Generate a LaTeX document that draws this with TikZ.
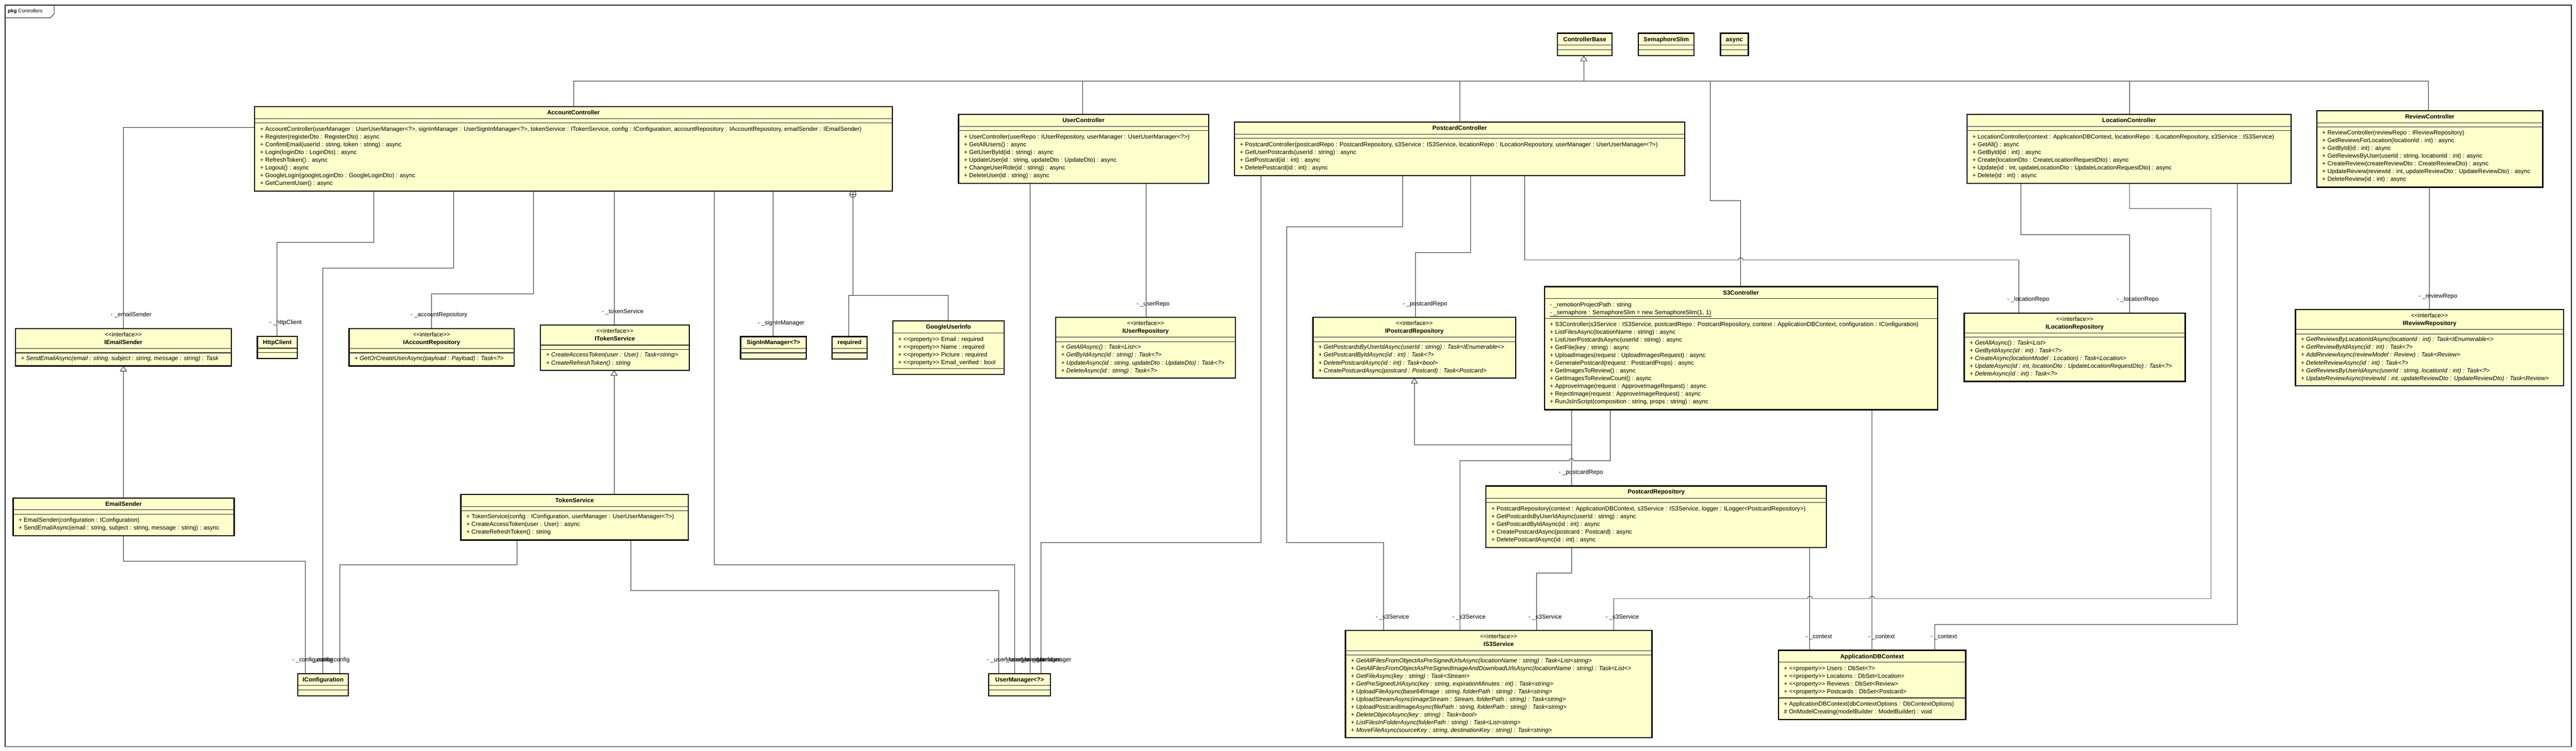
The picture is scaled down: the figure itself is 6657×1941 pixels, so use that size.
\documentclass[tikz,border=0pt]{standalone}
\usepackage{fontspec}
\setmainfont{Liberation Sans}
\usetikzlibrary{arrows.meta}
\definecolor{clsfill}{HTML}{FFFFCC}
\newcounter{tn}
\newcommand{\fs}{\fontsize{15.5}{18}\selectfont}
\newcommand{\ucls}[5]{\node[clsbox,minimum width={#4-#2},minimum height={#5-#3}] (#1) at (#2,#3) {};}
\newcommand{\usep}[2]{\draw[sepln] (#1.west |- 0,#2) -- (#1.east |- 0,#2);}
\newcommand{\uttl}[3]{\stepcounter{tn}\path (#1.north |- 0,#2) node[ttltxt] (t\number\value{tn}) {#3};}
\newcommand{\ustr}[2]{\stepcounter{tn}\path (#1.north |- 0,#2) node[strtxt] (t\number\value{tn}) {<{}<interface>{}>};}
\newcommand{\umem}[3]{\stepcounter{tn}\path (#1.west |- 0,#2) node[memtxt] (t\number\value{tn}) {#3};}
\newcommand{\uabs}[3]{\stepcounter{tn}\path (#1.west |- 0,#2) node[memtxt,font=\fs\itshape] (t\number\value{tn}) {#3};}
\newcommand{\ulbl}[3]{\stepcounter{tn}\node[lbltxt] (t\number\value{tn}) at (#1,#2) {#3};}
\begin{document}
\begin{tikzpicture}[x=1pt,y=-1pt,
  clsbox/.style={draw=black, line width=3pt, fill=clsfill, rectangle, anchor=north west, inner sep=0pt, outer sep=0pt},
  sepln/.style={draw=black!85, line width=1.4pt},
  ttltxt/.style={anchor=mid, inner sep=0pt, font=\fs\bfseries},
  strtxt/.style={anchor=mid, inner sep=0pt, font=\fs},
  memtxt/.style={anchor=mid west, inner sep=0pt, xshift=14pt, font=\fs},
  lbltxt/.style={anchor=mid west, inner sep=0pt, font=\fs},
  conn/.style={draw=black!85, line width=1.2pt},
  gen/.style={conn, -{Triangle[length=14pt, width=18pt, fill=white]}}]
\useasboundingbox (0,0) rectangle (6657,1941);
% package frame
\draw[line width=2pt, black!85] (13,13) rectangle (6645,1930);
\draw[line width=1.5pt, black!85] (13,46) -- (130,46) -- (140,36) -- (140,13);
\node[anchor=mid west, inner sep=0pt, font=\fontsize{13}{15}\selectfont] (pkg) at (20,30) {\textbf{pkg} Controllers};

% ---------- top small classes
\ucls{CB}{4025}{86}{4166}{144}\uttl{CB}{104}{ControllerBase}\usep{CB}{117}\usep{CB}{128}
\ucls{SS}{4234}{86}{4378}{144}\uttl{SS}{104}{SemaphoreSlim}\usep{SS}{117}\usep{SS}{128}
\ucls{AS}{4446}{86}{4518}{144}\uttl{AS}{104}{async}\usep{AS}{117}\usep{AS}{128}

% ---------- AccountController
\ucls{AC}{658}{276}{2306}{494}\uttl{AC}{294}{AccountController}\usep{AC}{307}\usep{AC}{318}
\umem{AC}{336}{+ AccountController(userManager : UserUserManager<?>, signInManager : UserSignInManager<?>, tokenService : ITokenService, config : IConfiguration, accountRepository : IAccountRepository, emailSender : IEmailSender)}
\umem{AC}{356}{+ Register(registerDto : RegisterDto) : async}
\umem{AC}{376}{+ ConfirmEmail(userId : string, token : string) : async}
\umem{AC}{396}{+ Login(loginDto : LoginDto) : async}
\umem{AC}{416}{+ RefreshToken() : async}
\umem{AC}{436}{+ Logout() : async}
\umem{AC}{456}{+ GoogleLogin(googleLoginDto : GoogleLoginDto) : async}
\umem{AC}{476}{+ GetCurrentUser() : async}

% ---------- UserController
\ucls{UC}{2477}{296}{3123}{474}\uttl{UC}{314}{UserController}\usep{UC}{327}\usep{UC}{338}
\umem{UC}{356}{+ UserController(userRepo : IUserRepository, userManager : UserUserManager<?>)}
\umem{UC}{376}{+ GetAllUsers() : async}
\umem{UC}{396}{+ GetUserById(id : string) : async}
\umem{UC}{416}{+ UpdateUser(id : string, updateDto : UpdateDto) : async}
\umem{UC}{436}{+ ChangeUserRole(id : string) : async}
\umem{UC}{456}{+ DeleteUser(id : string) : async}

% ---------- PostcardController
\ucls{PC}{3190}{316}{4354}{454}\uttl{PC}{334}{PostcardController}\usep{PC}{347}\usep{PC}{358}
\umem{PC}{376}{+ PostcardController(postcardRepo : PostcardRepository, s3Service : IS3Service, locationRepo : ILocationRepository, userManager : UserUserManager<?>)}
\umem{PC}{396}{+ GetUserPostcards(userId : string) : async}
\umem{PC}{416}{+ GetPostcard(id : int) : async}
\umem{PC}{436}{+ DeletePostcard(id : int) : async}

% ---------- LocationController
\ucls{LC}{5083}{296}{5921}{474}\uttl{LC}{314}{LocationController}\usep{LC}{327}\usep{LC}{338}
\umem{LC}{356}{+ LocationController(context : ApplicationDBContext, locationRepo : ILocationRepository, s3Service : IS3Service)}
\umem{LC}{376}{+ GetAll() : async}
\umem{LC}{396}{+ GetById(id : int) : async}
\umem{LC}{416}{+ Create(locationDto : CreateLocationRequestDto) : async}
\umem{LC}{436}{+ Update(id : int, updateLocationDto : UpdateLocationRequestDto) : async}
\umem{LC}{456}{+ Delete(id : int) : async}

% ---------- ReviewController
\ucls{RC}{5987}{286}{6571}{484}\uttl{RC}{304}{ReviewController}\usep{RC}{317}\usep{RC}{328}
\umem{RC}{346}{+ ReviewController(reviewRepo : IReviewRepository)}
\umem{RC}{366}{+ GetReviewsForLocation(locationId : int) : async}
\umem{RC}{386}{+ GetById(id : int) : async}
\umem{RC}{406}{+ GetReviewsByUser(userId : string, locationId : int) : async}
\umem{RC}{426}{+ CreateReview(createReviewDto : CreateReviewDto) : async}
\umem{RC}{446}{+ UpdateReview(reviewId : int, updateReviewDto : UpdateReviewDto) : async}
\umem{RC}{466}{+ DeleteReview(id : int) : async}

% ---------- S3Controller
\ucls{S3}{3991}{741}{5007}{1059}\uttl{S3}{759}{S3Controller}\usep{S3}{772}
\umem{S3}{790}{- \_remotionProjectPath : string}
\umem{S3}{810}{\underline{- \_semaphore : SemaphoreSlim = new SemaphoreSlim(1, 1)}}
\usep{S3}{823}
\umem{S3}{841}{+ S3Controller(s3Service : IS3Service, postcardRepo : PostcardRepository, context : ApplicationDBContext, configuration : IConfiguration)}
\umem{S3}{861}{+ ListFilesAsync(locationName : string) : async}
\umem{S3}{881}{+ ListUserPostcardsAsync(userId : string) : async}
\umem{S3}{901}{+ GetFile(key : string) : async}
\umem{S3}{921}{+ UploadImages(request : UploadImagesRequest) : async}
\umem{S3}{941}{+ GeneratePostcard(request : PostcardProps) : async}
\umem{S3}{961}{+ GetImagesToReview() : async}
\umem{S3}{981}{+ GetImagesToReviewCount() : async}
\umem{S3}{1001}{+ ApproveImage(request : ApproveImageRequest) : async}
\umem{S3}{1021}{+ RejectImage(request : ApproveImageRequest) : async}
\umem{S3}{1041}{+ RunJsInScript(composition : string, props : string) : async}

% ---------- left column
\ucls{IES}{40}{849}{598}{946}\ustr{IES}{867}\uttl{IES}{887}{IEmailSender}\usep{IES}{901}\usep{IES}{912}
\uabs{IES}{929}{+ SendEmailAsync(email : string, subject : string, message : string) : Task}
\ucls{ES}{34}{1287}{605}{1385}\uttl{ES}{1305}{EmailSender}\usep{ES}{1318}\usep{ES}{1329}
\umem{ES}{1347}{+ EmailSender(configuration : IConfiguration)}
\umem{ES}{1367}{+ SendEmailAsync(email : string, subject : string, message : string) : async}
\ucls{HC}{665}{869}{768}{927}\uttl{HC}{887}{HttpClient}\usep{HC}{900}\usep{HC}{911}
\ucls{IAR}{902}{849}{1329}{946}\ustr{IAR}{867}\uttl{IAR}{887}{IAccountRepository}\usep{IAR}{901}\usep{IAR}{912}
\uabs{IAR}{929}{+ GetOrCreateUserAsync(payload : Payload) : Task<?>}
\ucls{ITS}{1397}{840}{1781}{957}\ustr{ITS}{858}\uttl{ITS}{878}{ITokenService}\usep{ITS}{892}\usep{ITS}{903}
\uabs{ITS}{920}{+ CreateAccessToken(user : User) : Task<string>}
\uabs{ITS}{940}{+ CreateRefreshToken() : string}
\ucls{TS}{1191}{1278}{1779}{1396}\uttl{TS}{1296}{TokenService}\usep{TS}{1309}\usep{TS}{1320}
\umem{TS}{1338}{+ TokenService(config : IConfiguration, userManager : UserUserManager<?>)}
\umem{TS}{1358}{+ CreateAccessToken(user : User) : async}
\umem{TS}{1378}{+ CreateRefreshToken() : string}
\ucls{SIM}{1914}{870}{2084}{928}\uttl{SIM}{888}{SignInManager<?>}\usep{SIM}{901}\usep{SIM}{912}
\ucls{REQ}{2150}{870}{2241}{928}\uttl{REQ}{888}{required}\usep{REQ}{901}\usep{REQ}{912}
\ucls{GUI}{2307}{829}{2595}{968}\uttl{GUI}{847}{GoogleUserInfo}\usep{GUI}{861}
\umem{GUI}{879}{+ <{}<property>{}> Email : required}
\umem{GUI}{899}{+ <{}<property>{}> Name : required}
\umem{GUI}{919}{+ <{}<property>{}> Picture : required}
\umem{GUI}{939}{+ <{}<property>{}> Email\_verified : bool}
\usep{GUI}{953}
\ucls{ICF}{770}{1741}{900}{1799}\uttl{ICF}{1759}{IConfiguration}\usep{ICF}{1772}\usep{ICF}{1783}
\ucls{UM}{2555}{1741}{2715}{1799}\uttl{UM}{1759}{UserManager<?>}\usep{UM}{1772}\usep{UM}{1783}

% ---------- repositories
\ucls{IUR}{2728}{820}{3193}{977}\ustr{IUR}{838}\uttl{IUR}{858}{IUserRepository}\usep{IUR}{872}\usep{IUR}{883}
\uabs{IUR}{900}{+ GetAllAsync() : Task<List<>}
\uabs{IUR}{920}{+ GetByIdAsync(id : string) : Task<?>}
\uabs{IUR}{940}{+ UpdateAsync(id : string, updateDto : UpdateDto) : Task<?>}
\uabs{IUR}{960}{+ DeleteAsync(id : string) : Task<?>}
\ucls{IPR}{3393}{820}{3917}{977}\ustr{IPR}{838}\uttl{IPR}{858}{IPostcardRepository}\usep{IPR}{872}\usep{IPR}{883}
\uabs{IPR}{900}{+ GetPostcardsByUserIdAsync(userId : string) : Task<IEnumerable<>}
\uabs{IPR}{920}{+ GetPostcardByIdAsync(id : int) : Task<?>}
\uabs{IPR}{940}{+ DeletePostcardAsync(id : int) : Task<bool>}
\uabs{IPR}{960}{+ CreatePostcardAsync(postcard : Postcard) : Task<Postcard>}
\ucls{ILR}{5076}{809}{5647}{986}\ustr{ILR}{827}\uttl{ILR}{847}{ILocationRepository}\usep{ILR}{861}\usep{ILR}{872}
\uabs{ILR}{889}{+ GetAllAsync() : Task<List>}
\uabs{ILR}{909}{+ GetByIdAsync(id : int) : Task<?>}
\uabs{ILR}{929}{+ CreateAsync(locationModel : Location) : Task<Location>}
\uabs{ILR}{949}{+ UpdateAsync(id : int, locationDto : UpdateLocationRequestDto) : Task<?>}
\uabs{ILR}{969}{+ DeleteAsync(id : int) : Task<?>}
\ucls{IRR}{5932}{800}{6625}{997}\ustr{IRR}{818}\uttl{IRR}{838}{IReviewRepository}\usep{IRR}{852}\usep{IRR}{863}
\uabs{IRR}{880}{+ GetReviewsByLocationIdAsync(locationId : int) : Task<IEnumerable<>}
\uabs{IRR}{900}{+ GetReviewByIdAsync(id : int) : Task<?>}
\uabs{IRR}{920}{+ AddReviewAsync(reviewModel : Review) : Task<Review>}
\uabs{IRR}{940}{+ DeleteReviewAsync(id : int) : Task<?>}
\uabs{IRR}{960}{+ GetReviewsByUserIdAsync(userId : string, locationId : int) : Task<?>}
\uabs{IRR}{980}{+ UpdateReviewAsync(reviewId : int, updateReviewDto : UpdateReviewDto) : Task<Review>}
\ucls{PR}{3840}{1256}{4720}{1415}\uttl{PR}{1274}{PostcardRepository}\usep{PR}{1288}\usep{PR}{1299}
\umem{PR}{1317}{+ PostcardRepository(context : ApplicationDBContext, s3Service : IS3Service, logger : ILogger<PostcardRepository>)}
\umem{PR}{1337}{+ GetPostcardsByUserIdAsync(userId : string) : async}
\umem{PR}{1357}{+ GetPostcardByIdAsync(id : int) : async}
\umem{PR}{1377}{+ CreatePostcardAsync(postcard : Postcard) : async}
\umem{PR}{1397}{+ DeletePostcardAsync(id : int) : async}
\ucls{IS3}{3477}{1630}{4269}{1907}\ustr{IS3}{1648}\uttl{IS3}{1668}{IS3Service}\usep{IS3}{1682}\usep{IS3}{1693}
\uabs{IS3}{1710}{+ GetAllFilesFromObjectAsPreSignedUrlsAsync(locationName : string) : Task<List<string>}
\uabs{IS3}{1730}{+ GetAllFilesFromObjectAsPreSignedImageAndDownloadUrlsAsync(locationName : string) : Task<List<>}
\uabs{IS3}{1750}{+ GetFileAsync(key : string) : Task<Stream>}
\uabs{IS3}{1770}{+ GetPreSignedUrlAsync(key : string, expirationMinutes : int) : Task<string>}
\uabs{IS3}{1790}{+ UploadFileAsync(base64Image : string, folderPath : string) : Task<string>}
\uabs{IS3}{1810}{+ UploadStreamAsync(imageStream : Stream, folderPath : string) : Task<string>}
\uabs{IS3}{1830}{+ UploadPostcardImageAsync(filePath : string, folderPath : string) : Task<string>}
\uabs{IS3}{1850}{+ DeleteObjectAsync(key : string) : Task<bool>}
\uabs{IS3}{1870}{+ ListFilesInFolderAsync(folderPath : string) : Task<List<string>}
\uabs{IS3}{1890}{+ MoveFileAsync(sourceKey : string, destinationKey : string) : Task<string>}
\ucls{ADB}{4596}{1681}{5080}{1860}\uttl{ADB}{1699}{ApplicationDBContext}\usep{ADB}{1712}
\umem{ADB}{1730}{+ <{}<property>{}> Users : DbSet<?>}
\umem{ADB}{1750}{+ <{}<property>{}> Locations : DbSet<Location>}
\umem{ADB}{1770}{+ <{}<property>{}> Reviews : DbSet<Review>}
\umem{ADB}{1790}{+ <{}<property>{}> Postcards : DbSet<Postcard>}
\usep{ADB}{1804}
\umem{ADB}{1822}{+ ApplicationDBContext(dbContextOptions : DbContextOptions)}
\umem{ADB}{1842}{\# OnModelCreating(modelBuilder : ModelBuilder) : void}

% ---------- generalizations
\coordinate (bus) at (4093,209);
\draw[conn] (AC.north -| 1482,0) |- (bus);
\draw[conn] (UC.north -| 2798,0) |- (bus);
\draw[conn] (PC.north -| 3772,0) |- (bus);
\draw[conn] (S3.north -| 4498,0) -- (4498,519) -- (4419,519) |- (bus);
\draw[conn] (LC.north -| 5503,0) |- (bus);
\draw[conn] (RC.north -| 6276,0) |- (bus);
\draw[gen] (bus) -- (bus |- CB.south);
\draw[gen] (ES.north -| 319,0) -- (IES.south -| 319,0);
\draw[gen] (TS.north -| 1587,0) -- (ITS.south -| 1587,0);
\draw[gen] (PR.north -| 4061,0) -- (4061,1150) -- (3655,1150) -- (IPR.south -| 3655,0);

% ---------- nesting
\node[circle, draw=black!85, line width=1.2pt, minimum size=16pt, inner sep=0pt, fill=white] (nest) at (2204,502) {};
\draw[conn] (nest.north) -- (nest.south) (nest.west) -- (nest.east);
\draw[conn] (nest.south) -- (2204,763) -- (2194,763) -- (REQ.north -| 2194,0);
\draw[conn] (2204,763) -- (2450,763) -- (GUI.north -| 2450,0);

% ---------- associations
\draw[conn] (AC.west |- 0,330) -- (319,330) -- (IES.north -| 319,0);
\draw[conn] (AC.south -| 966,0) -- (966,626) -- (716,626) -- (HC.north -| 716,0);
\draw[conn] (AC.south -| 1172,0) -- (1172,693) -- (834,693) -- (ICF.north -| 834,0);
\draw[conn] (AC.south -| 1379,0) -- (1379,760) -- (1115,760) -- (IAR.north -| 1115,0);
\draw[conn] (AC.south -| 1587,0) -- (ITS.north -| 1587,0);
\draw[conn] (AC.south -| 1846,0) -- (1846,1460) -- (2622,1460) -- (UM.north -| 2622,0);
\draw[conn] (AC.south -| 1998,0) -- (SIM.north -| 1998,0);
\draw[conn] (ES.south -| 319,0) -- (319,1450) -- (789,1450) -- (ICF.north -| 789,0);
\draw[conn] (TS.south -| 1336,0) -- (1336,1460) -- (878,1460) -- (ICF.north -| 878,0);
\draw[conn] (TS.south -| 1630,0) -- (1630,1527) -- (2581,1527) -- (UM.north -| 2581,0);
\draw[conn] (UC.south -| 2662,0) -- (UM.north -| 2662,0);
\draw[conn] (UC.south -| 2961,0) -- (IUR.north -| 2961,0);
\draw[conn] (PC.south -| 3258,0) -- (3258,1402) -- (2690,1402) -- (UM.north -| 2690,0);
\draw[conn] (PC.south -| 3625,0) -- (3625,586) -- (3325,586) -- (3325,1402) -- (3576,1402) -- (IS3.north -| 3576,0);
\draw[conn] (PC.south -| 3800,0) -- (3800,653) -- (3658,653) -- (IPR.north -| 3658,0);
\draw[conn] (PC.south -| 3940,0) -- (3940,672) -- (4492,672) arc[start angle=180, end angle=0, radius=6pt] -- (5217,672) -- (ILR.north -| 5217,0);
\draw[conn] (S3.south -| 4061,0) -- (PR.north -| 4061,0);
\draw[conn] (S3.south -| 4161,0) -- (4161,1191) -- (4067,1191) arc[start angle=0, end angle=180, radius=6pt] -- (3773,1191) -- (IS3.north -| 3773,0);
\draw[conn] (S3.south -| 4838,0) -- (ADB.north -| 4838,0);
\draw[conn] (PR.south -| 4061,0) -- (4061,1481) -- (3971,1481) -- (IS3.north -| 3971,0);
\draw[conn] (PR.south -| 4677,0) -- (ADB.north -| 4677,0);
\draw[conn] (LC.south -| 5222,0) -- (5222,606) -- (5503,606) -- (ILR.north -| 5503,0);
\draw[conn] (LC.south -| 5503,0) -- (5503,539) -- (5714,539) -- (5714,1547) -- (4844,1547) arc[start angle=0, end angle=180, radius=6pt] -- (4683,1547) arc[start angle=0, end angle=180, radius=6pt] -- (4170,1547) -- (IS3.north -| 4170,0);
\draw[conn] (LC.south -| 5781,0) -- (5781,1614) -- (5000,1614) -- (ADB.north -| 5000,0);
\draw[conn] (RC.south -| 6278,0) -- (IRR.north -| 6278,0);

% ---------- role labels
\ulbl{286}{816}{- \_emailSender}
\ulbl{696}{836}{- \_httpClient}
\ulbl{1061}{816}{- \_accountRepository}
\ulbl{1555}{807}{- \_tokenService}
\ulbl{1958}{837}{- \_signInManager}
\ulbl{2937}{787}{- \_userRepo}
\ulbl{3625}{787}{- \_postcardRepo}
\ulbl{4028}{1223}{- \_postcardRepo}
\ulbl{5187}{776}{- \_locationRepo}
\ulbl{5470}{776}{- \_locationRepo}
\ulbl{6250}{767}{- \_reviewRepo}
\ulbl{3555}{1597}{- \_s3Service}
\ulbl{3753}{1597}{- \_s3Service}
\ulbl{3950}{1597}{- \_s3Service}
\ulbl{4149}{1597}{- \_s3Service}
\ulbl{4666}{1648}{- \_context}
\ulbl{4828}{1648}{- \_context}
\ulbl{4989}{1648}{- \_context}
\ulbl{755}{1708}{- \_configuration}
\ulbl{800}{1708}{- \_config}
\ulbl{844}{1708}{- \_config}
\ulbl{2550}{1708}{- \_userManager}
\ulbl{2591}{1708}{- \_userManager}
\ulbl{2631}{1708}{- \_userManager}
\ulbl{2659}{1708}{- \_userManager}
\end{tikzpicture}
\end{document}
